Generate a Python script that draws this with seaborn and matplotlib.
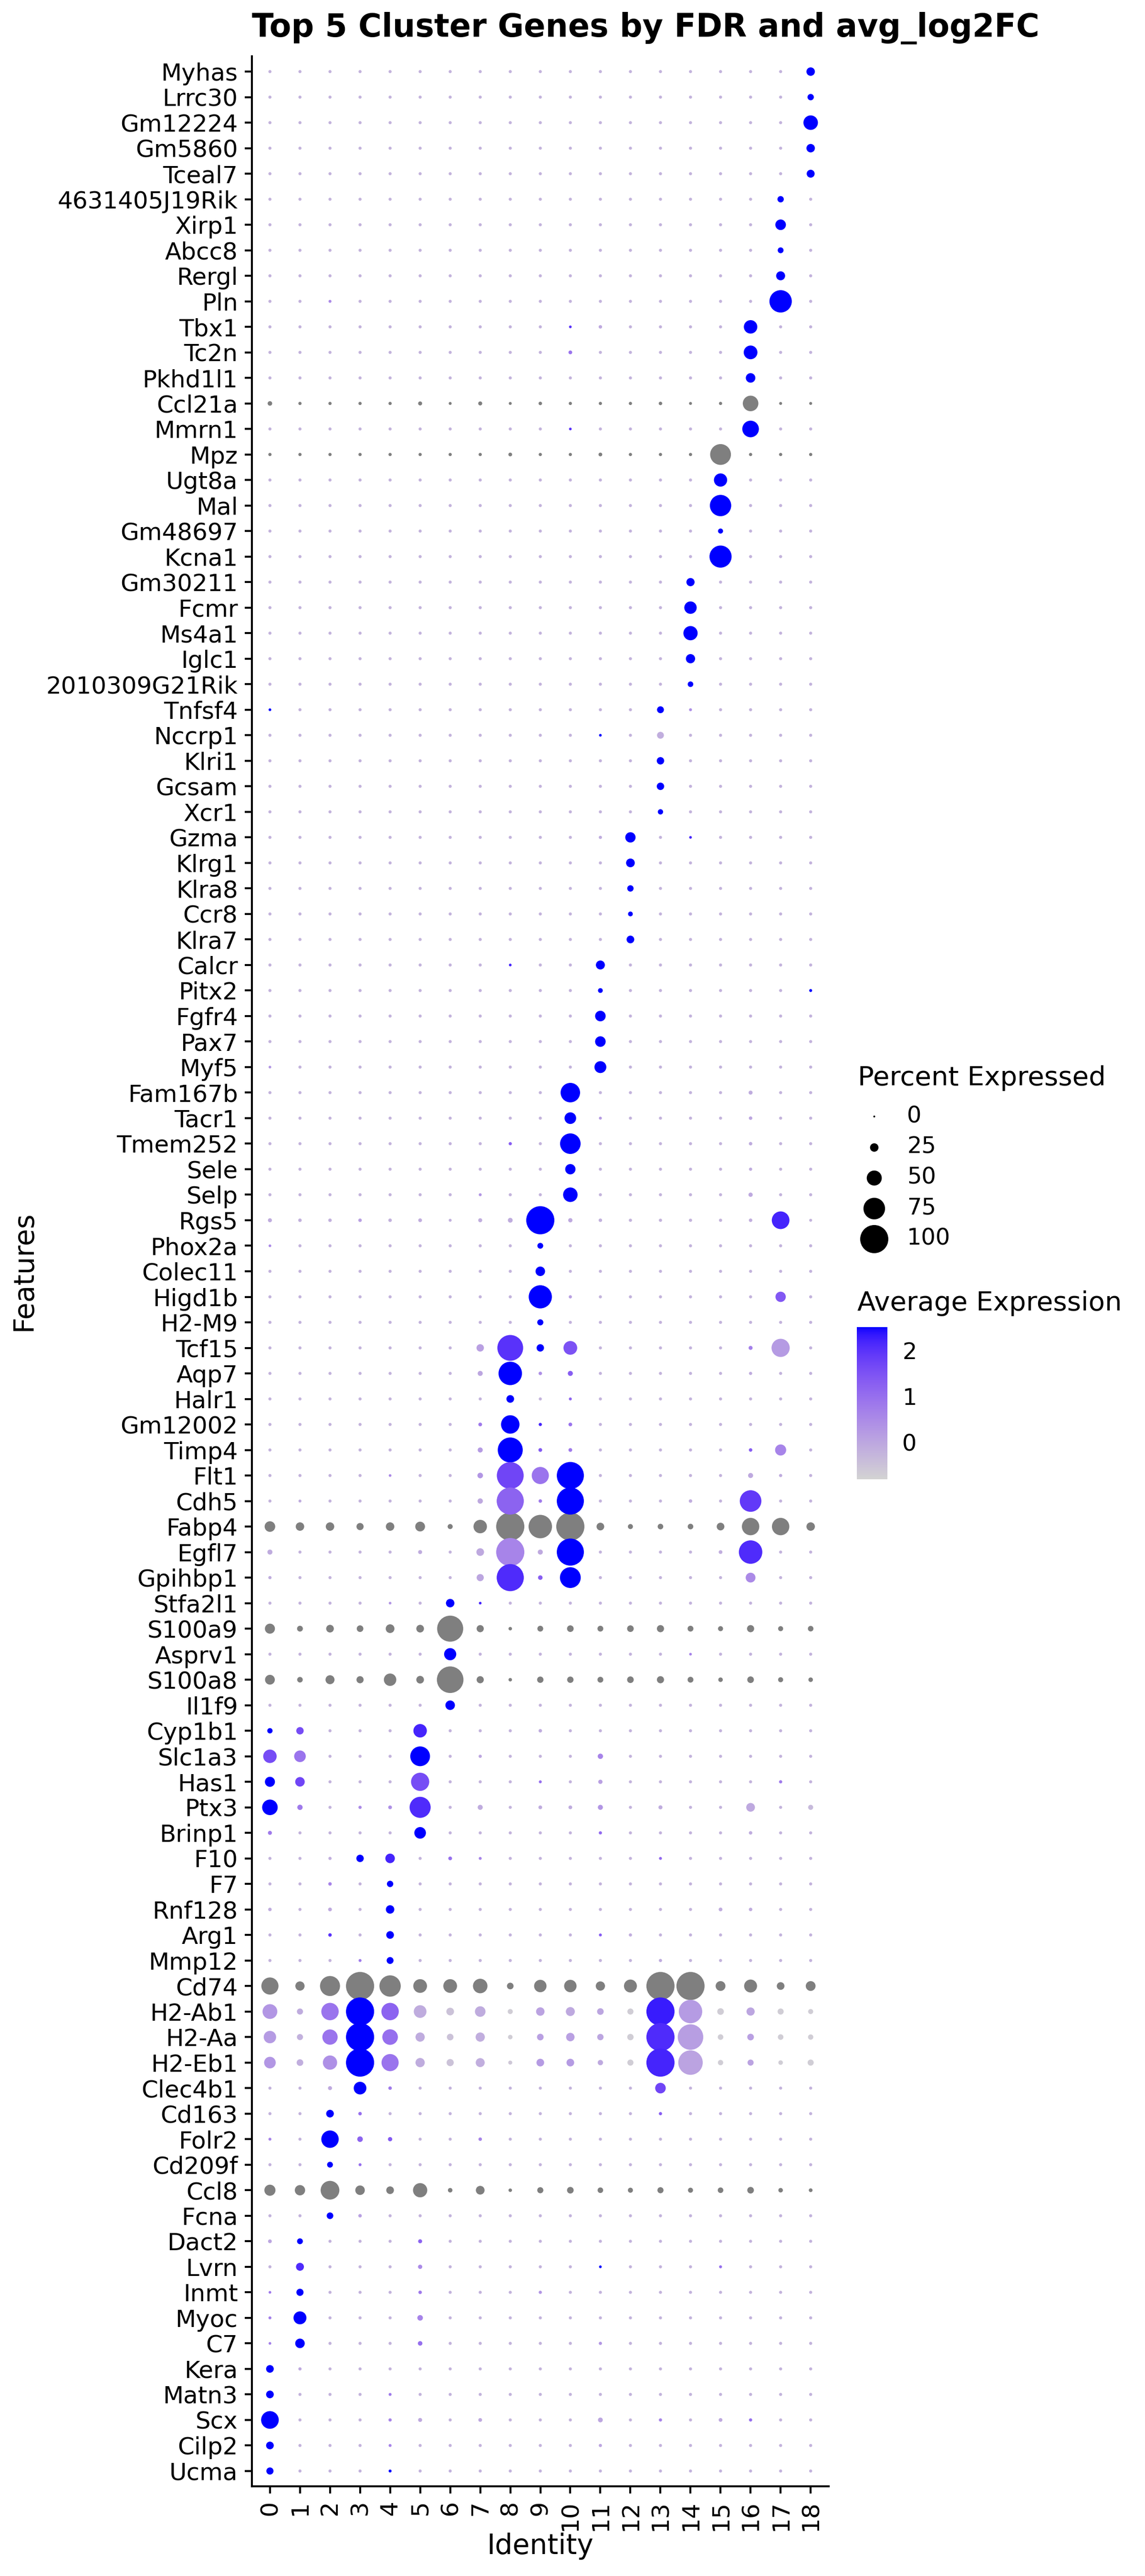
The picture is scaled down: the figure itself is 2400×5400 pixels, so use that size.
import numpy as np
import pandas as pd
import seaborn as sns
import matplotlib.pyplot as plt
from matplotlib.colors import ListedColormap, Normalize, to_rgb
from matplotlib.cm import ScalarMappable

# genes, top to bottom as shown on the y axis
genes = ["Myhas", "Lrrc30", "Gm12224", "Gm5860", "Tceal7",
         "4631405J19Rik", "Xirp1", "Abcc8", "Rergl", "Pln",
         "Tbx1", "Tc2n", "Pkhd1l1", "Ccl21a", "Mmrn1",
         "Mpz", "Ugt8a", "Mal", "Gm48697", "Kcna1",
         "Gm30211", "Fcmr", "Ms4a1", "Iglc1", "2010309G21Rik",
         "Tnfsf4", "Nccrp1", "Klri1", "Gcsam", "Xcr1",
         "Gzma", "Klrg1", "Klra8", "Ccr8", "Klra7",
         "Calcr", "Pitx2", "Fgfr4", "Pax7", "Myf5",
         "Fam167b", "Tacr1", "Tmem252", "Sele", "Selp",
         "Rgs5", "Phox2a", "Colec11", "Higd1b", "H2-M9",
         "Tcf15", "Aqp7", "Halr1", "Gm12002", "Timp4",
         "Flt1", "Cdh5", "Fabp4", "Egfl7", "Gpihbp1",
         "Stfa2l1", "S100a9", "Asprv1", "S100a8", "Il1f9",
         "Cyp1b1", "Slc1a3", "Has1", "Ptx3", "Brinp1",
         "F10", "F7", "Rnf128", "Arg1", "Mmp12",
         "Cd74", "H2-Ab1", "H2-Aa", "H2-Eb1", "Clec4b1",
         "Cd163", "Folr2", "Cd209f", "Ccl8", "Fcna",
         "Dact2", "Lvrn", "Inmt", "Myoc", "C7",
         "Kera", "Matn3", "Scx", "Cilp2", "Ucma"]
clusters = [str(i) for i in range(19)]

# most cells: few cells expressing, slightly below mean
base_pct = 4.5
base_expr = -0.23
col_lim = (-0.81, 2.5)

# rows drawn grey (average expression outside the colour scale) - percent only
gray_pct = {
    "Ccl21a": [10, 5, 5, 5, 5, 8, 4, 8, 4, 6, 5, 5, 5, 6, 4, 5, 52, 4, 4],
    "Mpz":    [5, 5, 5, 5, 5, 5, 5, 5, 7, 5, 5, 7, 5, 5, 5, 72, 5, 5, 5],
    "Fabp4":  [33, 25, 25, 20, 25, 30, 12, 44, 100, 82, 100, 22, 12, 14, 14, 22, 59, 59, 25],
    "S100a9": [31, 15, 22, 18, 26, 22, 92, 20, 6, 15, 18, 15, 18, 20, 15, 12, 20, 12, 14],
    "S100a8": [30, 14, 27, 20, 40, 22, 94, 20, 6, 17, 17, 15, 18, 20, 15, 10, 18, 12, 10],
    "Cd74":   [58, 28, 69, 100, 74, 45, 45, 48, 18, 40, 40, 28, 42, 100, 100, 30, 42, 22, 30],
    "Ccl8":   [35, 32, 64, 29, 22, 47, 10, 26, 6, 16, 18, 14, 12, 16, 12, 14, 18, 10, 7],
}

# rows read cell by cell
full_pct = {
    "Rgs5":   [8, 6, 6, 6, 6, 7, 4, 8, 11, 100, 9, 6, 5, 5, 5, 5, 6, 60, 4],
    "H2-Ab1": [49, 16, 59, 100, 59, 41, 22, 33, 12, 25, 27, 18, 16, 100, 82, 18, 24, 16, 12],
    "H2-Aa":  [40, 16, 51, 100, 52, 28, 18, 28, 10, 18, 25, 17, 17, 100, 90, 14, 18, 14, 13],
    "H2-Eb1": [37, 18, 47, 100, 58, 28, 20, 27, 8, 22, 22, 13, 16, 100, 86, 13, 16, 10, 16],
}
full_expr = {
    "Rgs5":   [-0.1, -0.2, -0.2, 0.1, -0.2, -0.15, -0.2, -0.15, -0.1, 2.5, -0.05, -0.2,
               -0.25, -0.25, -0.25, -0.25, -0.15, 2.2, -0.25],
    "H2-Ab1": [0.3, -0.1, 0.9, 2.5, 1.2, -0.1, -0.5, -0.1, -0.7, 0.05, -0.05, 0.0,
               -0.7, 2.3, 0.2, -0.7, 0.0, -0.7, -0.7],
    "H2-Aa":  [0.2, -0.2, 0.9, 2.5, 1.0, -0.1, -0.5, -0.15, -0.7, 0.1, 0.1, 0.0,
               -0.7, 2.1, 0.15, -0.7, 0.1, -0.7, -0.7],
    "H2-Eb1": [0.3, -0.15, 0.4, 2.5, 0.9, -0.1, -0.5, -0.15, -0.6, 0.2, 0.2, -0.05,
               -0.7, 2.2, 0.05, -0.7, 0.05, -0.7, -0.7],
}

# remaining non-background cells: (gene, cluster, percent, avg expression)
spots = [
    ("Myhas", 18, 25, 2.5), ("Lrrc30", 18, 17, 2.5), ("Gm12224", 18, 48, 2.5),
    ("Gm5860", 18, 25, 2.5), ("Tceal7", 18, 23, 2.5),
    ("4631405J19Rik", 17, 17, 2.5), ("Xirp1", 17, 33, 2.5), ("Abcc8", 17, 15, 2.5),
    ("Rergl", 17, 27, 2.5), ("Pln", 17, 78, 2.5), ("Pln", 2, 4, 0.5),
    ("Tbx1", 16, 44, 2.5), ("Tbx1", 10, 3, 2.0), ("Tbx1", 11, 6, -0.05),
    ("Tc2n", 16, 45, 2.5), ("Tc2n", 10, 7, 0.9),
    ("Pkhd1l1", 16, 29, 2.5),
    ("Mmrn1", 16, 56, 2.5), ("Mmrn1", 10, 3, 2.0),
    ("Ugt8a", 15, 43, 2.5), ("Mal", 15, 74, 2.5), ("Gm48697", 15, 12, 2.5),
    ("Kcna1", 15, 77, 2.5),
    ("Gm30211", 14, 24, 2.5), ("Fcmr", 14, 40, 2.5), ("Ms4a1", 14, 47, 2.5),
    ("Iglc1", 14, 28, 2.5), ("2010309G21Rik", 14, 14, 2.5),
    ("Tnfsf4", 13, 19, 2.5), ("Tnfsf4", 0, 3, 2.5), ("Tnfsf4", 14, 4, 0.4),
    ("Nccrp1", 13, 19, -0.15), ("Nccrp1", 11, 3, 2.5),
    ("Klri1", 13, 21, 2.5), ("Gcsam", 13, 21, 2.5), ("Xcr1", 13, 13, 2.5),
    ("Gzma", 12, 32, 2.5), ("Gzma", 14, 3, 2.2), ("Gzma", 11, 5, -0.1),
    ("Klrg1", 12, 26, 2.5), ("Klra8", 12, 17, 2.5), ("Ccr8", 12, 11, 2.5),
    ("Klra7", 12, 22, 2.5),
    ("Calcr", 11, 27, 2.5), ("Calcr", 8, 3, 2.2),
    ("Pitx2", 11, 11, 2.5), ("Pitx2", 18, 4, 2.5),
    ("Fgfr4", 11, 33, 2.5), ("Pax7", 11, 33, 2.5),
    ("Myf5", 11, 38, 2.5), ("Myf5", 0, 3, 0.3),
    ("Fam167b", 10, 67, 2.5), ("Fam167b", 16, 8, -0.1),
    ("Tacr1", 10, 37, 2.5), ("Tacr1", 16, 6, 0.0), ("Tacr1", 11, 4, 0.2),
    ("Tmem252", 10, 71, 2.5), ("Tmem252", 8, 5, 1.3), ("Tmem252", 16, 6, -0.1),
    ("Sele", 10, 32, 2.5), ("Sele", 16, 5, -0.1),
    ("Selp", 10, 48, 2.5), ("Selp", 16, 9, -0.05), ("Selp", 7, 4, 0.3),
    ("Phox2a", 9, 15, 2.5), ("Phox2a", 0, 3, 0.5),
    ("Colec11", 9, 29, 2.5),
    ("Higd1b", 9, 81, 2.5), ("Higd1b", 17, 32, 1.4), ("Higd1b", 10, 5, 0.1),
    ("H2-M9", 9, 16, 2.5),
    ("Tcf15", 8, 91, 2.0), ("Tcf15", 9, 21, 2.5), ("Tcf15", 10, 45, 1.5),
    ("Tcf15", 7, 21, 0.1), ("Tcf15", 17, 62, 0.2), ("Tcf15", 16, 8, 0.7),
    ("Aqp7", 8, 82, 2.5), ("Aqp7", 7, 12, 0.0), ("Aqp7", 9, 6, 0.4),
    ("Aqp7", 10, 12, 1.3), ("Aqp7", 16, 5, -0.1),
    ("Halr1", 8, 22, 2.5), ("Halr1", 10, 4, 1.2),
    ("Gm12002", 8, 63, 2.5), ("Gm12002", 7, 7, 0.8), ("Gm12002", 9, 5, 2.2),
    ("Gm12002", 10, 7, 0.9),
    ("Timp4", 8, 88, 2.5), ("Timp4", 7, 12, 0.2), ("Timp4", 9, 7, 1.4),
    ("Timp4", 10, 7, 0.8), ("Timp4", 16, 6, 1.3), ("Timp4", 17, 35, 0.6),
    ("Flt1", 8, 95, 1.7), ("Flt1", 9, 58, 0.9), ("Flt1", 10, 96, 2.5),
    ("Flt1", 7, 14, 0.3), ("Flt1", 16, 12, -0.05), ("Flt1", 17, 5, -0.1),
    ("Flt1", 4, 3, 0.5),
    ("Cdh5", 8, 96, 1.2), ("Cdh5", 10, 96, 2.5), ("Cdh5", 16, 75, 1.9),
    ("Cdh5", 7, 13, -0.05), ("Cdh5", 9, 6, 0.8), ("Cdh5", 14, 6, -0.15),
    ("Cdh5", 1, 4, -0.1),
    ("Egfl7", 8, 100, 0.6), ("Egfl7", 10, 96, 2.5), ("Egfl7", 16, 82, 2.1),
    ("Egfl7", 7, 22, -0.05), ("Egfl7", 9, 12, -0.05), ("Egfl7", 0, 12, -0.1),
    ("Egfl7", 5, 8, -0.1), ("Egfl7", 15, 7, -0.15),
    ("Gpihbp1", 8, 96, 2.1), ("Gpihbp1", 10, 72, 2.5), ("Gpihbp1", 7, 20, 0.0),
    ("Gpihbp1", 9, 10, 1.3), ("Gpihbp1", 16, 30, 0.5), ("Gpihbp1", 0, 5, -0.1),
    ("Stfa2l1", 6, 25, 2.5), ("Stfa2l1", 7, 3, 2.2), ("Stfa2l1", 4, 3, 0.3),
    ("Asprv1", 6, 39, 2.5), ("Asprv1", 14, 3, 0.6),
    ("Il1f9", 6, 29, 2.5),
    ("Cyp1b1", 5, 44, 2.2), ("Cyp1b1", 0, 13, 2.5), ("Cyp1b1", 1, 21, 1.6),
    ("Cyp1b1", 9, 6, -0.1),
    ("Slc1a3", 5, 68, 2.5), ("Slc1a3", 0, 44, 1.6), ("Slc1a3", 1, 37, 0.9),
    ("Slc1a3", 11, 13, 0.6), ("Slc1a3", 7, 5, 0.0),
    ("Has1", 5, 62, 1.6), ("Has1", 0, 31, 2.5), ("Has1", 1, 29, 1.7),
    ("Has1", 9, 4, 1.0), ("Has1", 11, 9, 0.1), ("Has1", 17, 5, 0.8),
    ("Ptx3", 5, 73, 2.1), ("Ptx3", 0, 52, 2.5), ("Ptx3", 1, 13, 0.8),
    ("Ptx3", 16, 26, -0.05), ("Ptx3", 7, 12, -0.1), ("Ptx3", 11, 12, 0.3),
    ("Ptx3", 18, 12, -0.35), ("Ptx3", 4, 7, 0.4), ("Ptx3", 3, 5, 0.5),
    ("Ptx3", 9, 7, -0.1), ("Ptx3", 10, 7, -0.1), ("Ptx3", 13, 8, -0.1),
    ("Brinp1", 5, 37, 2.5), ("Brinp1", 0, 8, 0.8), ("Brinp1", 11, 5, 1.1),
    ("Brinp1", 16, 6, -0.1),
    ("F10", 3, 21, 2.5), ("F10", 4, 29, 2.2), ("F10", 6, 7, 1.0),
    ("F10", 7, 4, 0.6), ("F10", 13, 4, 1.1), ("F10", 2, 5, -0.15),
    ("F7", 4, 17, 2.5), ("F7", 2, 6, 0.6),
    ("Rnf128", 4, 25, 2.5), ("Rnf128", 2, 7, -0.05), ("Rnf128", 15, 7, -0.1),
    ("Rnf128", 16, 6, -0.1), ("Rnf128", 0, 6, -0.1),
    ("Arg1", 4, 22, 2.5), ("Arg1", 2, 6, 2.0), ("Arg1", 11, 4, 1.3),
    ("Arg1", 12, 5, -0.15),
    ("Mmp12", 4, 19, 2.5), ("Mmp12", 3, 4, 0.8), ("Mmp12", 13, 5, -0.1),
    ("Clec4b1", 3, 41, 2.5), ("Clec4b1", 13, 33, 1.7), ("Clec4b1", 2, 8, -0.05),
    ("Clec4b1", 4, 6, 0.8),
    ("Cd163", 2, 22, 2.5), ("Cd163", 3, 6, 1.0), ("Cd163", 13, 5, 1.3),
    ("Folr2", 2, 59, 2.5), ("Folr2", 3, 14, 1.2), ("Folr2", 4, 9, 1.4),
    ("Folr2", 7, 6, 0.6), ("Folr2", 0, 4, 0.6),
    ("Cd209f", 2, 15, 2.5), ("Cd209f", 3, 4, 1.0),
    ("Fcna", 2, 18, 2.5), ("Fcna", 3, 6, 0.1),
    ("Dact2", 1, 15, 2.5), ("Dact2", 0, 7, 0.0), ("Dact2", 5, 8, 1.2),
    ("Lvrn", 1, 23, 2.1), ("Lvrn", 5, 9, 0.5), ("Lvrn", 11, 3, 2.5),
    ("Lvrn", 15, 4, 1.0),
    ("Inmt", 1, 20, 2.5), ("Inmt", 0, 3, 0.8), ("Inmt", 5, 6, 0.8),
    ("Inmt", 9, 5, 0.3),
    ("Myoc", 1, 42, 2.5), ("Myoc", 5, 14, 0.6), ("Myoc", 0, 4, 0.7),
    ("C7", 1, 29, 2.5), ("C7", 5, 10, 1.0), ("C7", 0, 3, 0.7), ("C7", 11, 5, 0.3),
    ("Kera", 0, 22, 2.5), ("Kera", 1, 5, -0.05),
    ("Matn3", 0, 22, 2.5), ("Matn3", 4, 4, 0.8),
    ("Scx", 0, 60, 2.5), ("Scx", 4, 5, 0.6), ("Scx", 5, 8, -0.05),
    ("Scx", 7, 7, -0.05), ("Scx", 11, 11, 0.0), ("Scx", 13, 5, 0.6),
    ("Scx", 15, 7, -0.05), ("Scx", 16, 5, 1.0),
    ("Cilp2", 0, 22, 2.5), ("Cilp2", 4, 4, 0.6), ("Cilp2", 11, 5, 0.0),
    ("Ucma", 0, 20, 2.5), ("Ucma", 4, 4, 2.5),
]

DPI = 300


def dot_area(p):
    # ggplot scale_radius: diameter linear in percent (+ stroke)
    d_px = 4 + 0.55 * np.asarray(p, float)
    return (d_px * 72 / DPI) ** 2


# ---- colour ramp lightgrey -> blue interpolated in CIELAB like ggplot ----
M = np.array([[0.4124564, 0.3575761, 0.1804375],
              [0.2126729, 0.7151522, 0.0721750],
              [0.0193339, 0.1191920, 0.9503041]])
WHITE = np.array([0.95047, 1.0, 1.08883])


def srgb2lab(c):
    c = np.asarray(c, float)
    lin = np.where(c <= 0.04045, c / 12.92, ((c + 0.055) / 1.055) ** 2.4)
    xyz = (M @ lin) / WHITE
    d = 6 / 29
    f = np.where(xyz > d ** 3, np.cbrt(xyz), xyz / (3 * d ** 2) + 4 / 29)
    return np.array([116 * f[1] - 16, 500 * (f[0] - f[1]), 200 * (f[1] - f[2])])


def lab2srgb(lab):
    L, a, b = lab
    fy = (L + 16) / 116
    f = np.array([fy + a / 500, fy, fy - b / 200])
    d = 6 / 29
    xyz = np.where(f > d, f ** 3, 3 * d ** 2 * (f - 4 / 29)) * WHITE
    lin = np.linalg.solve(M, xyz)
    c = np.where(lin <= 0.0031308, 12.92 * lin, 1.055 * np.abs(lin) ** (1 / 2.4) - 0.055)
    return np.clip(c, 0, 1)


lab_lo = srgb2lab(to_rgb("lightgrey"))
lab_hi = srgb2lab(to_rgb("blue"))
cmap = ListedColormap([lab2srgb(lab_lo + t * (lab_hi - lab_lo)) for t in np.linspace(0, 1, 256)])

# ---- assemble long table ----
n_g, n_c = len(genes), len(clusters)
pct = np.full((n_g, n_c), base_pct)
expr = np.full((n_g, n_c), base_expr)
for g, c, p, e in spots:
    i = genes.index(g)
    pct[i, c] = p
    expr[i, c] = e
for g in full_pct:
    i = genes.index(g)
    pct[i] = full_pct[g]
    expr[i] = full_expr[g]
for g in gray_pct:
    i = genes.index(g)
    pct[i] = gray_pct[g]
    expr[i] = np.nan

rows = []
for i, g in enumerate(genes):
    for j, c in enumerate(clusters):
        rows.append({"gene": g, "cluster": c, "x": j, "y": n_g - 1 - i,
                     "pct": pct[i, j], "expr": expr[i, j]})
df = pd.DataFrame(rows)
df["area"] = dot_area(df["pct"])
df["expr"] = df["expr"].clip(*col_lim)

a_min, a_max = float(dot_area(0)), float(dot_area(100))

sns.set_style("white")
plt.rcParams["font.family"] = ["DejaVu Sans"]
plt.rcParams["text.color"] = "black"
plt.rcParams["axes.labelcolor"] = "black"
plt.rcParams["xtick.color"] = "black"
plt.rcParams["ytick.color"] = "black"

W, H = 2400, 5400
fig = plt.figure(figsize=(W / DPI, H / DPI), dpi=DPI)
left, right, top, bottom = 528, 1737, 118, 5212
ax = fig.add_axes([left / W, 1 - bottom / H, (right - left) / W, (bottom - top) / H])

df_col = df[df["expr"].notna()]
df_na = df[df["expr"].isna()]
sns.scatterplot(data=df_na, x="x", y="y", size="area", sizes=(a_min, a_max),
                size_norm=(a_min, a_max), color="#7F7F7F", linewidth=0,
                legend=False, ax=ax)
sns.scatterplot(data=df_col, x="x", y="y", hue="expr", palette=cmap, hue_norm=col_lim,
                size="area", sizes=(a_min, a_max), size_norm=(a_min, a_max),
                linewidth=0, legend=False, ax=ax)

ax.set_xlim(-0.6, n_c - 0.4)
ax.set_ylim(-0.6, n_g - 0.4)
ax.set_xticks(range(n_c))
ax.set_xticklabels(clusters, rotation=90, va="top", ha="center")
ax.set_yticks(range(n_g))
ax.set_yticklabels(genes[::-1])
ax.set_xlabel("")
ax.set_ylabel("")
for s in ["top", "right"]:
    ax.spines[s].set_visible(False)
for s in ["left", "bottom"]:
    ax.spines[s].set_linewidth(1.0)
    ax.spines[s].set_color("black")
ax.tick_params(axis="both", length=3.5, width=1.0, color="black", labelsize=12,
               pad=3.6, labelcolor="black", direction="out", left=True, bottom=True)

# titles
fig.text(left / W, 1 - 77 / H, "Top 5 Cluster Genes by FDR and avg_log2FC",
         fontsize=16, fontweight="bold", va="baseline", ha="left", color="black")
fig.text(50 / W, 1 - 2664 / H, "Features", rotation=90, fontsize=14,
         ha="center", va="center", color="black")
fig.text((left + right) / 2 / W, 1 - 5338 / H, "Identity", fontsize=14,
         ha="center", va="center", color="black")

# size legend
fig.text(1798 / W, 1 - 2275 / H, "Percent Expressed", fontsize=13.5, va="baseline")
size_breaks = [0, 25, 50, 75, 100]
handles = [ax.scatter([], [], s=float(dot_area(v)), color="black", linewidth=0)
           for v in size_breaks]
fig.legend(handles, [str(v) for v in size_breaks], loc="upper left",
           bbox_to_anchor=(1798 / W, 1 - 2316 / H), frameon=False, fontsize=11.5,
           handlelength=1.4, handletextpad=0.75, labelspacing=0.36, borderpad=0,
           borderaxespad=0, scatterpoints=1, labelcolor="black")

# colour bar
fig.text(1797 / W, 1 - 2747 / H, "Average Expression", fontsize=13.5, va="baseline")
cax = fig.add_axes([1796 / W, 1 - 3101 / H, 64 / W, (3101 - 2782) / H])
cb = fig.colorbar(ScalarMappable(norm=Normalize(*col_lim), cmap=cmap), cax=cax,
                  ticks=[0, 1, 2])
cb.outline.set_visible(False)
cax.tick_params(axis="y", direction="in", length=3.1, width=0.6, color="white",
                left=True, right=True, labelleft=False, labelright=True,
                labelsize=11.5, labelcolor="black", pad=7.5)

fig.savefig("out.png", dpi=DPI, facecolor="white")
